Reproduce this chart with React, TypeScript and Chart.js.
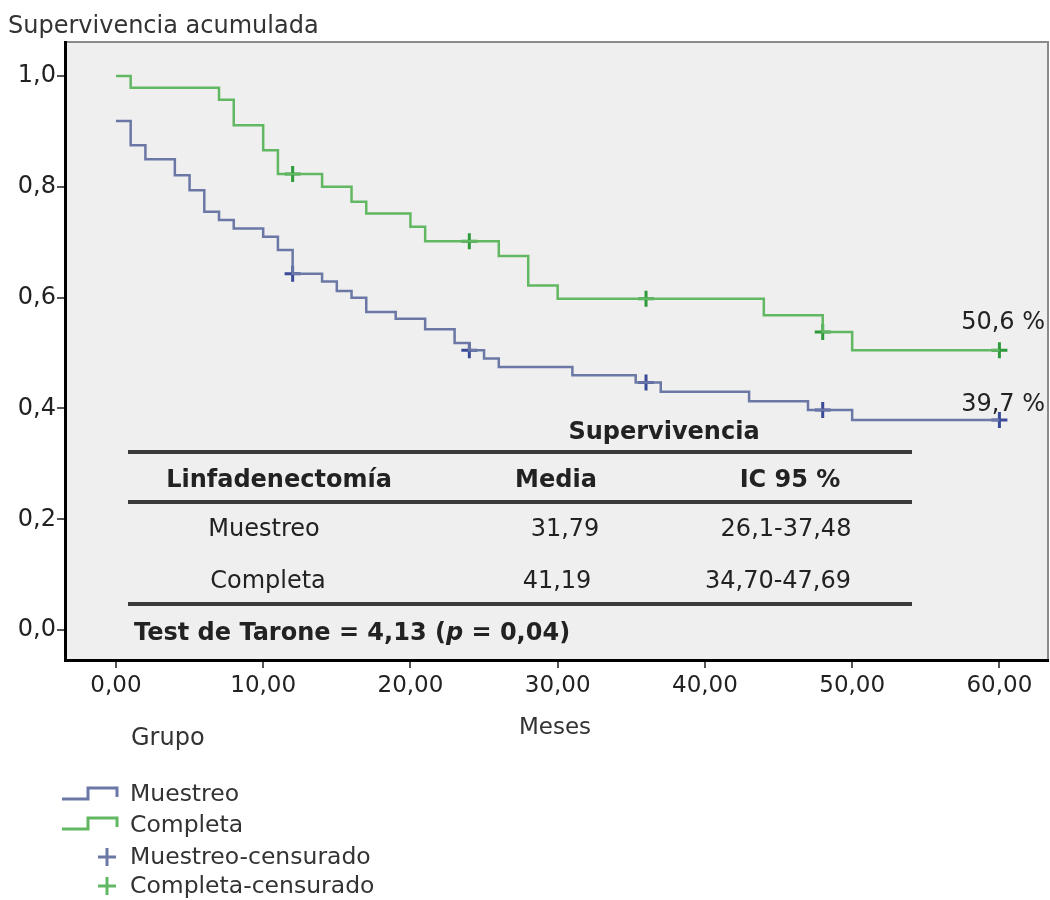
import React, { useEffect, useRef } from "react";
import { Chart, registerables } from "chart.js";

Chart.register(...registerables);

// ---- Data ----
const muestreoTimes = [0, 1, 2, 4, 5, 6, 7, 8, 10, 11, 12, 14, 15, 16, 17, 19, 21, 23, 24, 25, 26, 31, 35.3, 37, 43, 47, 50, 60];
const muestreoSurv = [0.919, 0.875, 0.85, 0.821, 0.794, 0.755, 0.74, 0.725, 0.71, 0.686, 0.643, 0.629, 0.612, 0.6, 0.574, 0.562, 0.543, 0.518, 0.505, 0.49, 0.475, 0.46, 0.447, 0.43, 0.413, 0.397, 0.379, 0.379];
const muestreoCensored = [12, 24, 36, 48, 60];

const completaTimes = [0, 1, 7, 8, 10, 11, 14, 16, 17, 20, 21, 26, 28, 30, 44, 48, 50, 60];
const completaSurv = [1.0, 0.979, 0.957, 0.911, 0.866, 0.823, 0.8, 0.773, 0.752, 0.728, 0.702, 0.675, 0.622, 0.598, 0.568, 0.538, 0.505, 0.505];
const completaCensored = [12, 24, 36, 48, 60];

const finalLabels = ["39,7 %", "50,6 %"]; // Muestreo, Completa

const xTicks = [0, 10, 20, 30, 40, 50, 60];
const yTicks = [0, 0.2, 0.4, 0.6, 0.8, 1.0];

const tableGroups = ["Muestreo", "Completa"];
const tableMeans = ["31,79", "41,19"];
const tableCI = ["26,1-37,48", "34,70-47,69"];
const tableHeaders = ["Linfadenectomía", "Media", "IC 95 %"];

const legendLabels = ["Muestreo", "Completa", "Muestreo-censurado", "Completa-censurado"];

// ---- Styles ----
const BLUE = "#6b78a6";
const GREEN = "#62b862";
const BLUE_C = "#3b4a98";
const GREEN_C = "#2f9a3a";
const FONT = "'DejaVu Sans', Verdana, sans-serif";

function survAt(times: number[], surv: number[], t: number) {
  let v = surv[0];
  for (let i = 0; i < times.length; i++) {
    if (times[i] <= t) v = surv[i];
  }
  return v;
}

const bgPlugin = {
  id: "bgPlugin",
  beforeDraw(chart: any) {
    const { ctx, chartArea: a } = chart;
    ctx.save();
    ctx.fillStyle = "#efefef";
    ctx.fillRect(a.left, a.top, a.right - a.left, a.bottom - a.top);
    ctx.strokeStyle = "#8a8a8a";
    ctx.lineWidth = 2;
    ctx.beginPath();
    ctx.moveTo(a.left, a.top);
    ctx.lineTo(a.right, a.top);
    ctx.lineTo(a.right, a.bottom);
    ctx.stroke();
    ctx.restore();
  },
  afterDatasetsDraw(chart: any) {
    const { ctx, chartArea: a, scales } = chart;
    ctx.save();
    ctx.font = `24px ${FONT}`;
    ctx.fillStyle = "#222";
    ctx.textAlign = "right";
    ctx.textBaseline = "middle";
    const yM = scales.y.getPixelForValue(muestreoSurv[muestreoSurv.length - 1]);
    const yC = scales.y.getPixelForValue(completaSurv[completaSurv.length - 1]);
    ctx.fillText(finalLabels[0], a.right - 3, yM - 15);
    ctx.fillText(finalLabels[1], a.right - 3, yC - 28);
    ctx.restore();
  },
};

function ChartCanvas() {
  const ref = useRef<HTMLCanvasElement | null>(null);
  useEffect(() => {
    if (!ref.current) return;
    const mLine = muestreoTimes.map((t, i) => ({ x: t, y: muestreoSurv[i] }));
    const cLine = completaTimes.map((t, i) => ({ x: t, y: completaSurv[i] }));
    const mCens = muestreoCensored.map((t) => ({ x: t, y: survAt(muestreoTimes, muestreoSurv, t) }));
    const cCens = completaCensored.map((t) => ({ x: t, y: survAt(completaTimes, completaSurv, t) }));
    const chart = new Chart(ref.current, {
      type: "line",
      data: {
        datasets: [
          { label: "Muestreo", data: mLine, borderColor: BLUE, borderWidth: 2.5, stepped: "before", pointRadius: 0, fill: false },
          { label: "Completa", data: cLine, borderColor: GREEN, borderWidth: 2.5, stepped: "before", pointRadius: 0, fill: false },
          { label: "Muestreo-censurado", data: mCens, showLine: false, pointStyle: "cross", pointRadius: 8, pointBorderWidth: 3, borderColor: BLUE_C, pointBorderColor: BLUE_C },
          { label: "Completa-censurado", data: cCens, showLine: false, pointStyle: "cross", pointRadius: 8, pointBorderWidth: 3, borderColor: GREEN_C, pointBorderColor: GREEN_C },
        ],
      } as any,
      options: {
        responsive: false,
        animation: false,
        devicePixelRatio: 1,
        layout: { autoPadding: false, padding: { left: 0, top: 42, right: 2, bottom: 0 } },
        plugins: { legend: { display: false }, tooltip: { enabled: false }, title: { display: false } },
        events: [],
        scales: {
          x: {
            type: "linear",
            min: -3.46,
            max: 63.3,
            afterBuildTicks: (s: any) => {
              s.ticks = xTicks.map((v) => ({ value: v }));
            },
            afterFit: (s: any) => {
              s.height = 240;
              s.paddingLeft = 0;
              s.paddingRight = 0;
            },
            ticks: {
              autoSkip: false,
              maxRotation: 0,
              padding: 4,
              color: "#222",
              font: { family: FONT, size: 23 },
              callback: (v: any) => Number(v).toFixed(2).replace(".", ","),
            },
            grid: { drawOnChartArea: false, drawTicks: true, tickLength: 8, color: "#555", lineWidth: 2 },
            border: { display: true, color: "#000", width: 3 },
          },
          y: {
            type: "linear",
            min: -0.054,
            max: 1.0614,
            afterBuildTicks: (s: any) => {
              s.ticks = yTicks.map((v) => ({ value: v }));
            },
            afterFit: (s: any) => {
              s.width = 65;
              s.paddingTop = 0;
              s.paddingBottom = 0;
            },
            ticks: {
              autoSkip: false,
              padding: 1,
              color: "#222",
              font: { family: FONT, size: 24 },
              callback: (v: any) => Number(v).toFixed(1).replace(".", ","),
            },
            grid: { drawOnChartArea: false, drawTicks: true, tickLength: 8, color: "#555", lineWidth: 2 },
            border: { display: true, color: "#000", width: 3 },
          },
        },
      } as any,
      plugins: [bgPlugin],
    });
    return () => chart.destroy();
  }, []);
  return <canvas ref={ref} width={1050} height={900} style={{ display: "block", width: 1050, height: 900 }} />;
}

const abs = (x: number, y: number, extra: any = {}): any => ({
  position: "absolute",
  left: x,
  top: y,
  transform: "translate(-50%, -50%)",
  whiteSpace: "nowrap",
  lineHeight: 1,
  ...extra,
});

export default function App() {
  const txt = { fontFamily: FONT, fontSize: 24, color: "#222" };
  const bold = { ...txt, fontWeight: "bold" };
  const rule = (y: number): any => ({ position: "absolute", left: 128, top: y - 2, width: 784, height: 4, background: "#3a3a3a" });
  return (
    <div style={{ position: "absolute", left: 0, top: 0, width: 1050, height: 900, background: "#fff", overflow: "hidden" }}>
      <ChartCanvas />
      {/* axis titles */}
      <div style={{ position: "absolute", left: 8, top: 13, fontFamily: FONT, fontSize: 24, color: "#333", whiteSpace: "nowrap", lineHeight: 1 }}>Supervivencia acumulada</div>
      <div style={abs(555, 726, { ...txt, fontSize: 23, color: "#333" })}>Meses</div>
      {/* table */}
      <div style={abs(664, 431, bold)}>Supervivencia</div>
      <div style={rule(452)} />
      <div style={abs(279, 479, bold)}>{tableHeaders[0]}</div>
      <div style={abs(556, 479, bold)}>{tableHeaders[1]}</div>
      <div style={abs(790, 479, bold)}>{tableHeaders[2]}</div>
      <div style={rule(502)} />
      <div style={abs(264, 528, txt)}>{tableGroups[0]}</div>
      <div style={abs(565, 528, txt)}>{tableMeans[0]}</div>
      <div style={abs(786, 528, txt)}>{tableCI[0]}</div>
      <div style={abs(268, 580, txt)}>{tableGroups[1]}</div>
      <div style={abs(557, 580, txt)}>{tableMeans[1]}</div>
      <div style={abs(778, 580, txt)}>{tableCI[1]}</div>
      <div style={rule(604)} />
      <div style={{ position: "absolute", left: 134, top: 620, whiteSpace: "nowrap", lineHeight: 1, ...bold }}>
        Test de Tarone = 4,13 (<i>p</i> = 0,04)
      </div>
      {/* legend */}
      <div style={{ position: "absolute", left: 131, top: 725, fontFamily: FONT, fontSize: 24, color: "#333", lineHeight: 1 }}>Grupo</div>
      <svg width={1050} height={900} style={{ position: "absolute", left: 0, top: 0, pointerEvents: "none" }}>
        <path d="M62 799 H88 V788 H117 V797" fill="none" stroke={BLUE} strokeWidth={3} />
        <path d="M62 829 H88 V818 H117 V827" fill="none" stroke={GREEN} strokeWidth={3} />
        <path d="M98 857 H116 M107 848 V866" fill="none" stroke={BLUE} strokeWidth={3} />
        <path d="M98 886 H116 M107 877 V895" fill="none" stroke={GREEN} strokeWidth={3} />
      </svg>
      {legendLabels.map((l, i) => (
        <div key={l} style={{ position: "absolute", left: 130, top: [794, 825, 857, 886][i] - 12, fontFamily: FONT, fontSize: 23.5, color: "#333", whiteSpace: "nowrap", lineHeight: 1 }}>
          {l}
        </div>
      ))}
    </div>
  );
}
